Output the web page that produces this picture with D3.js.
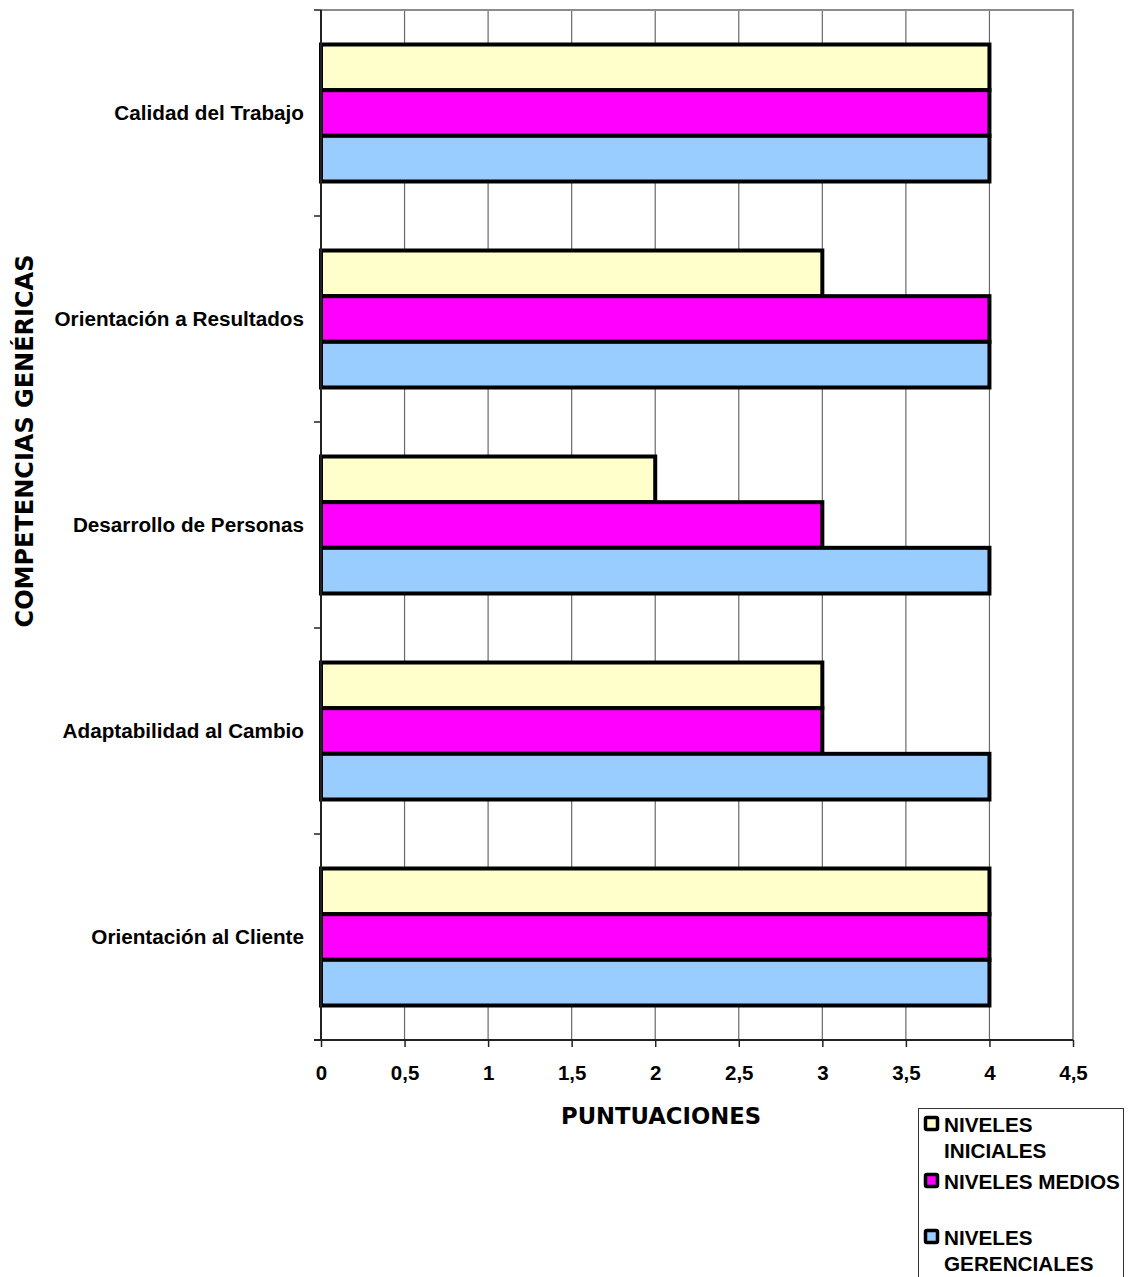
<!DOCTYPE html>
<html>
<head>
<meta charset="utf-8">
<script src="https://cdn.jsdelivr.net/npm/d3@7"></script>
<style>
  html, body { margin: 0; padding: 0; background: #fff; }
  svg { display: block; }
</style>
</head>
<body>
<script>
// Competencias genéricas por nivel
const categories = [
  "Calidad del Trabajo",
  "Orientación a Resultados",
  "Desarrollo de Personas",
  "Adaptabilidad al Cambio",
  "Orientación al Cliente"
];
const seriesNames = ["NIVELES INICIALES", "NIVELES MEDIOS", "NIVELES GERENCIALES"];
const nivelesIniciales   = [4, 3, 2, 3, 4];
const nivelesMedios      = [4, 4, 3, 3, 4];
const nivelesGerenciales = [4, 4, 4, 4, 4];
const xTicks = [0, 0.5, 1, 1.5, 2, 2.5, 3, 3.5, 4, 4.5];
const seriesColors = ["#FFFFCC", "#FF00FF", "#99CCFF"];

const seriesValues = [nivelesIniciales, nivelesMedios, nivelesGerenciales];

const W = 1128, H = 1277;
const plot = { left: 321, top: 10, right: 1073, bottom: 1040 };
const labelFont = "Liberation Sans, Arial, Helvetica, sans-serif";

const svg = d3.select("body").append("svg")
  .attr("width", W).attr("height", H);

const x = d3.scaleLinear().domain([0, 4.5]).range([plot.left, plot.right]);
const y = d3.scaleBand().domain(categories).range([plot.top, plot.bottom]).padding(0);
const bw = y.bandwidth();
const ySeries = d3.scaleBand().domain(seriesNames)
  .range([bw * 0.1675, bw * 0.8325]).padding(0);

// vertical gridlines
svg.append("g").selectAll("line")
  .data(xTicks.filter(t => t > 0 && t < 4.5))
  .join("line")
  .attr("x1", d => x(d)).attr("x2", d => x(d))
  .attr("y1", plot.top).attr("y2", plot.bottom)
  .attr("stroke", "#6a6a6a").attr("stroke-width", 1.2);

// plot frame (top and right)
svg.append("path")
  .attr("d", `M${plot.left},${plot.top}H${plot.right}V${plot.bottom}`)
  .attr("fill", "none").attr("stroke", "#8c8c8c").attr("stroke-width", 2);

// bars
const groups = svg.append("g").selectAll("g")
  .data(categories)
  .join("g")
  .attr("transform", d => `translate(0,${y(d)})`);

groups.selectAll("rect")
  .data((c, i) => seriesNames.map((s, k) => ({ s, k, v: seriesValues[k][i] })))
  .join("rect")
  .attr("x", x(0))
  .attr("y", d => ySeries(d.s))
  .attr("width", d => x(d.v) - x(0))
  .attr("height", ySeries.bandwidth())
  .attr("fill", d => seriesColors[d.k])
  .attr("stroke", "#000")
  .attr("stroke-width", 4);

// x axis
const xAxis = d3.axisBottom(x).tickValues(xTicks).tickSize(7).tickSizeOuter(0)
  .tickFormat(d => String(d).replace(".", ","));
const gx = svg.append("g").attr("transform", `translate(0,${plot.bottom})`).call(xAxis);
gx.select(".domain").attr("stroke", "#222").attr("stroke-width", 2)
  .attr("d", `M${plot.left - 7},0H${plot.right}`);
gx.selectAll(".tick line").attr("stroke", "#222").attr("stroke-width", 1.5);
gx.selectAll(".tick text")
  .attr("y", 0).attr("dy", 0)
  .attr("transform", "translate(0,40)")
  .attr("font-family", labelFont)
  .attr("font-weight", "bold").attr("font-size", 20.5).attr("fill", "#000");

// y axis
const yAxis = d3.axisLeft(y).tickSize(0).tickSizeOuter(0).tickPadding(17);
const gy = svg.append("g").attr("transform", `translate(${plot.left},0)`).call(yAxis);
gy.select(".domain").attr("stroke", "#222").attr("stroke-width", 2)
  .attr("d", `M0,${plot.top}V${plot.bottom}`);
gy.selectAll(".tick text")
  .attr("font-family", labelFont)
  .attr("font-weight", "bold").attr("font-size", 20.7).attr("fill", "#000");

// category separators on the y axis
const boundaries = categories.map(c => y(c)).concat([plot.bottom]);
svg.append("g").selectAll("line")
  .data(boundaries)
  .join("line")
  .attr("x1", plot.left - 7).attr("x2", plot.left)
  .attr("y1", d => d).attr("y2", d => d)
  .attr("stroke", "#222").attr("stroke-width", 1.5);

// axis titles
svg.append("text")
  .attr("x", 661).attr("y", 1124)
  .attr("text-anchor", "middle")
  .attr("font-family", "DejaVu Sans, Verdana, sans-serif")
  .attr("font-weight", "bold").attr("font-size", 22.7)
  .text("PUNTUACIONES");

svg.append("text")
  .attr("transform", `translate(33,${(plot.top + plot.bottom) / 2 - 84}) rotate(-90)`)
  .attr("text-anchor", "middle")
  .attr("font-family", "DejaVu Sans, Verdana, sans-serif")
  .attr("font-weight", "bold").attr("font-size", 24)
  .text("COMPETENCIAS GENÉRICAS");

// legend
const legend = svg.append("g");
legend.append("rect")
  .attr("x", 918.5).attr("y", 1108.5).attr("width", 205).attr("height", 180)
  .attr("fill", "#fff").attr("stroke", "#333").attr("stroke-width", 1);

const legendLines = [["NIVELES", "INICIALES"], ["NIVELES MEDIOS"], ["NIVELES", "GERENCIALES"]];
const legendTop = [1124, 1181, 1237];
legendLines.forEach((lines, k) => {
  legend.append("rect")
    .attr("x", 925.5).attr("y", legendTop[k] - 6.5).attr("width", 12).attr("height", 12)
    .attr("fill", seriesColors[k]).attr("stroke", "#000").attr("stroke-width", 3.5)
    .attr("rx", 1.5);
  const t = legend.append("text")
    .attr("x", 944).attr("y", legendTop[k] + 8)
    .attr("font-family", labelFont)
    .attr("font-weight", "bold").attr("font-size", 20.7).attr("fill", "#000");
  lines.forEach((ln, j) => {
    t.append("tspan").attr("x", 944).attr("dy", j === 0 ? 0 : 26).text(ln);
  });
});
</script>
</body>
</html>
